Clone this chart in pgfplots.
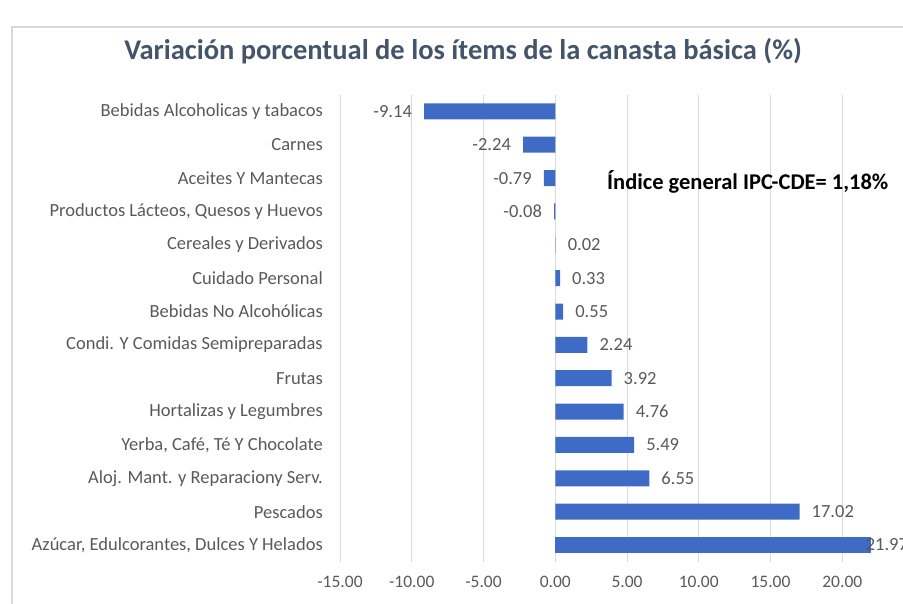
\documentclass[border=0pt]{standalone}
\usepackage{fontspec}
\setmainfont{Carlito}
\usepackage{pgfplots}
\pgfplotsset{compat=1.18}
\definecolor{barblue}{HTML}{3D6BC6}
\definecolor{titlecol}{HTML}{44546A}
\definecolor{labgray}{HTML}{595959}
\definecolor{gridcol}{HTML}{D9D9D9}
\definecolor{framecol}{HTML}{D9D9D9}
\begin{document}
\begin{tikzpicture}[x=1pt,y=1pt]
\useasboundingbox (0,0) rectangle (903,604);
\draw[framecol, line width=1.2pt] (12,0) -- (12,577) -- (905,577);
\node[font=\fontsize{28.5}{32}\selectfont\bfseries, text=titlecol] at (463,553) {Variación porcentual de los ítems de la canasta básica (\%)};
\begin{axis}[
  at={(340pt,42.3pt)}, anchor=south west,
  scale only axis, width=563pt, height=467pt,
  xbar, bar width=16pt, bar shift=0pt,
  xmin=-15, xmax=24.23,
  ymin=-0.5, ymax=13.5, y dir=reverse,
  axis line style={draw=none},
  major tick length=0pt,
  xmajorgrids, grid style={gridcol, line width=0.8pt},
  xtick={-15,-10,-5,0,5,10,15,20},
  /pgf/number format/assume math mode=true,
  xticklabel style={font=\fontsize{17.5}{21}\selectfont, text=labgray, anchor=north, inner sep=0pt, yshift=-14pt,
    /pgf/number format/fixed, /pgf/number format/fixed zerofill, /pgf/number format/precision=2},
  ytick={0,...,13},
  yticklabels={Bebidas Alcoholicas y tabacos, Carnes, Aceites Y Mantecas, {Productos Lácteos, Quesos y Huevos}, Cereales y Derivados, Cuidado Personal, Bebidas No Alcohólicas, Condi. Y Comidas Semipreparadas, Frutas, Hortalizas y Legumbres, {Yerba, Café, Té Y Chocolate}, Aloj. Mant. y Reparaciony Serv., Pescados, {Azúcar, Edulcorantes, Dulces Y Helados}},
  yticklabel style={font=\fontsize{18.5}{22}\selectfont, text=labgray, anchor=east, inner sep=0pt, xshift=-17pt},
  point meta=x,
  nodes near coords align={horizontal},
  every node near coord/.append style={font=\fontsize{18.5}{22}\selectfont, text=labgray, inner xsep=12pt, inner ysep=0pt,
    /pgf/number format/fixed, /pgf/number format/fixed zerofill, /pgf/number format/precision=2},
  clip=false,
]
\addplot[fill=barblue, draw=none, nodes near coords] coordinates {
(-9.14,0) (-2.24,1) (-0.79,2) (-0.08,3) (0.02,4) (0.33,5) (0.55,6) (2.24,7) (3.92,8) (4.76,9) (5.49,10) (6.55,11) (17.02,12)
};
\addplot[fill=barblue, draw=none, nodes near coords, every node near coord/.append style={xshift=-17pt}] coordinates {
(21.97,13)
};
\end{axis}
\node[anchor=west, font=\fontsize{22.5}{26}\selectfont\bfseries, text=black, inner sep=0pt] at (607,422) {Índice general IPC-CDE= 1,18\%};
\end{tikzpicture}
\end{document}
